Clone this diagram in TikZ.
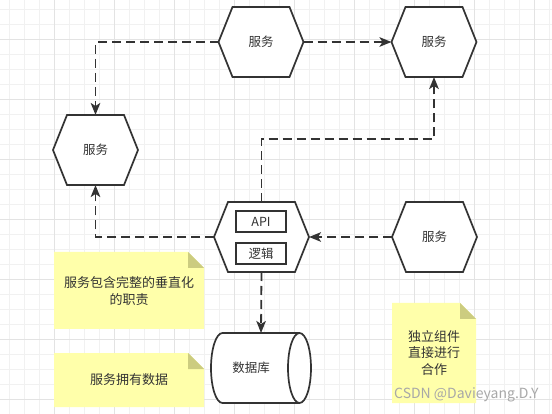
\documentclass[tikz,border=0pt]{standalone}
\usepackage{fontspec}
\setmainfont{Noto Sans CJK SC}
\usetikzlibrary{arrows.meta}
\definecolor{ink}{HTML}{333333}
\definecolor{gridminor}{HTML}{F1F1F1}
\definecolor{gridmajor}{HTML}{E3E3E3}
\definecolor{notefill}{HTML}{FFFFAA}
\definecolor{notefold}{HTML}{CCCC80}
\definecolor{wmark}{HTML}{A8A8A8}
\begin{document}
\begin{tikzpicture}[x=1pt,y=-1pt,
  every node/.style={font=\fontsize{12.5}{16.5}\selectfont, text=ink},
  hexnode/.style={rectangle, draw=none, minimum width=85pt, minimum height=70pt, inner sep=0pt, outer sep=0pt},
  apinode/.style={hexnode, minimum width=95pt},
  hexline/.style={draw=ink, line width=1.7pt, fill=white, line join=miter},
  inbox/.style={rectangle, draw=ink, line width=1.7pt, fill=white, minimum width=50pt, minimum height=21pt, inner sep=0pt},
  conn/.style={draw=ink, line width=1.8pt, dash pattern=on 9pt off 5pt, -{Stealth[length=12pt,width=9.5pt,inset=3pt]}},
  notetext/.style={align=center, font=\fontsize{13}{16.5}\selectfont}
]
\useasboundingbox (0,0) rectangle (552,414);
\fill[white] (0,0) rectangle (552,414);
% grid
\foreach \i in {0,...,36} {
  \draw[gridminor, line width=0.8pt] (9.3+15*\i,0) -- (9.3+15*\i,414);
}
\foreach \i in {0,...,27} {
  \draw[gridminor, line width=0.8pt] (0,9.3+15*\i) -- (552,9.3+15*\i);
}
\foreach \i in {0,...,9} {
  \draw[gridmajor, line width=0.8pt] (-5.7+60*\i,0) -- (-5.7+60*\i,414);
}
\foreach \i in {0,...,6} {
  \draw[gridmajor, line width=0.8pt] (0,39.3+60*\i) -- (552,39.3+60*\i);
}

% node placeholders
\node[hexnode] (h1) at (261,42) {};
\node[hexnode] (h2) at (434,42) {};
\node[hexnode] (h3) at (95.5,150) {};
\node[apinode] (api) at (261.5,237) {};
\node[hexnode] (h4) at (434.5,237) {};
\node[rectangle, minimum width=100pt, minimum height=70pt, inner sep=0pt, outer sep=0pt] (db) at (261,368) {};

% connectors
\draw[conn] (h1.west) -| (h3.north);
\draw[conn] (h1.east) -- (h2.west);
\draw[conn] (api.north) -- (api.north |- 0,139) -| (h2.south);
\draw[conn] (api.west) -| (h3.south);
\draw[conn] (h4.west) -- (api.east);
\draw[conn] (api.south) -- (db.north);

% hexagons
\foreach \n in {h1,h2,h3,h4,api} {
  \path[hexline] (\n.west) -- ([xshift=14pt]\n.north west) -- ([xshift=-14pt]\n.north east)
    -- (\n.east) -- ([xshift=-14pt]\n.south east) -- ([xshift=14pt]\n.south west) -- cycle;
}
\node (t1) at (h1.center) {服务};
\node (t2) at (h2.center) {服务};
\node (t3) at (h3.center) {服务};
\node (t4) at (h4.center) {服务};
\node[inbox] (apibox) at (261,221.5) {API};
\node[inbox] (logic) at (261,253.5) {逻辑};

% database cylinder
\path[draw=ink, line width=1.7pt, fill=white]
  (222.5,333) -- (299.5,333) arc[start angle=90, end angle=-90, x radius=11.5, y radius=-35]
  -- (222.5,403) arc[start angle=-90, end angle=-270, x radius=11.5, y radius=-35] -- cycle;
\draw[ink, line width=1.7pt] (299.5,333) arc[start angle=90, end angle=270, x radius=11.5, y radius=-35];
\node (dbt) at (251,368) {数据库};

% notes
\fill[notefill] (54,252) -- (188,252) -- (204,268) -- (204,329) -- (54,329) -- cycle;
\fill[notefold] (188,252) -- (188,268) -- (204,268) -- cycle;
\node[notetext] (n1) at (129,291) {服务包含完整的垂直化\\的职责};

\fill[notefill] (54,353) -- (188,353) -- (204,369) -- (204,407) -- (54,407) -- cycle;
\fill[notefold] (188,353) -- (188,369) -- (204,369) -- cycle;
\node[notetext] (n2) at (129,380) {服务拥有数据};

\fill[notefill] (392,303) -- (460,303) -- (476,319) -- (476,403) -- (392,403) -- cycle;
\fill[notefold] (460,303) -- (460,319) -- (476,319) -- cycle;
\node[notetext] (n3) at (434,353) {独立组件\\直接进行\\合作};

% watermark
\node[anchor=west, text=wmark, font=\fontsize{14}{16}\selectfont, inner sep=0pt] (wm) at (394,395) {CSDN @Davieyang.D.Y};
\end{tikzpicture}
\end{document}
